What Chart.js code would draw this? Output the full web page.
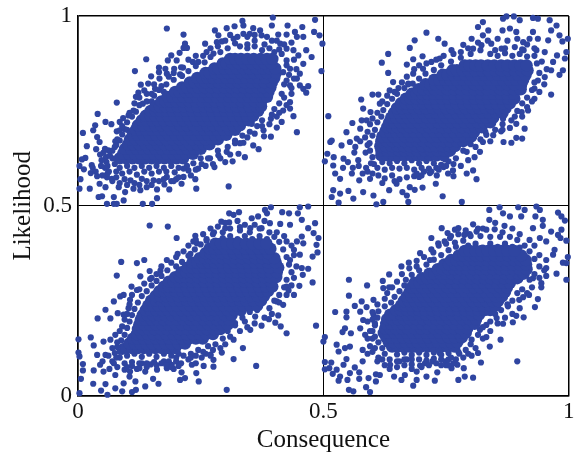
<!DOCTYPE html>
<html>
<head>
<meta charset="utf-8">
<script src="https://cdn.jsdelivr.net/npm/chart.js@4"></script>
<style>
html, body { margin: 0; background: #fff; }
</style>
</head>
<body>
<canvas id="chart" width="575" height="455"></canvas>
<script>
const tickValues = [0, 0.5, 1];
const xTitle = "Consequence";
const yTitle = "Likelihood";
const dotColor = "#2f45a1";

// scattered points, [consequence, likelihood]
const q1Loose = [[.181,.967],[.215,.951],[.139,.886],[.116,.855],[.079,.772],[.040,.742],[.010,.692],[.018,.657],[.003,.605],[.005,.570],[.024,.545],[.003,.545],[.049,.525],[.059,.505],[.132,.505],[.151,.505],[.161,.520],[.241,.545],[.307,.551],[.239,.570],[.278,.602],[.315,.617],[.340,.628],[.368,.649],[.393,.682],[.446,.694],[.439,.736],[.465,.798],[.496,.855],[.476,.892],[.498,.927],[.483,.990],[.397,.996],[.335,.987],[.427,.975],[.457,.971],[.492,.949],[.481,.958],[.190,.896],[.207,.903],[.218,.927],[.215,.916],[.222,.916],[.183,.883],[.201,.883],[.214,.864],[.165,.864],[.178,.861],[.196,.861],[.165,.852],[.181,.848],[.149,.841],[.208,.846],[.166,.835],[.128,.819],[.143,.822],[.157,.808],[.118,.787],[.123,.798],[.150,.795],[.135,.804],[.132,.769],[.113,.751],[.103,.738],[.092,.731],[.085,.721],[.068,.715],[.056,.721],[.035,.712],[.031,.699],[.039,.681],[.044,.668],[.037,.649],[.076,.670],[.079,.696],[.085,.699],[.062,.646],[.057,.628],[.015,.626],[.008,.622],[.028,.607],[.012,.596],[.026,.586],[.039,.578],[.044,.558],[.056,.549],[.042,.523],[.073,.523],[.079,.505],[.073,.505],[.093,.514],[.096,.536],[.083,.549],[.069,.571],[.059,.575],[.113,.545],[.127,.541],[.140,.549],[.161,.543],[.176,.556],[.186,.543],[.211,.558],[.215,.576],[.107,.567],[.130,.571],[.154,.567],[.181,.576],[.225,.593],[.245,.598],[.252,.61],[.300,.615],[.286,.633],[.269,.625],[.327,.637],[.303,.642],[.357,.659],[.320,.672],[.337,.666],[.354,.716],[.378,.699],[.379,.683],[.418,.751],[.432,.756],[.432,.773],[.415,.721],[.405,.706],[.393,.729],[.435,.795],[.432,.817],[.452,.817],[.469,.815],[.459,.808],[.446,.835],[.452,.848],[.459,.874],[.465,.91],[.449,.896],[.439,.91],[.425,.914],[.412,.927],[.408,.951],[.425,.951],[.442,.958],[.459,.945],[.446,.945],[.395,.975],[.371,.962],[.357,.968],[.337,.975],[.319,.973],[.303,.968],[.279,.962],[.286,.949],[.337,.953],[.350,.953],[.374,.949],[.317,.94],[.259,.927],[.262,.905],[.283,.931],[.293,.933],[.234,.879],[.245,.879],[.276,.901],[.425,.883],[.432,.861],[.418,.852],[.425,.83],
[.055,.60],[.06,.585],[.078,.59],[.09,.585],[.105,.59],[.12,.582],[.135,.59],[.15,.585],[.165,.59],[.18,.59],[.197,.588],[.058,.615],[.065,.632],[.07,.645],[.078,.66],[.085,.672],[.09,.688],[.095,.702],[.1,.72],[.11,.735],[.118,.748],[.125,.765],[.14,.775],[.155,.79],[.165,.805],[.18,.82],[.195,.832],[.212,.842],[.225,.855],[.24,.868],[.258,.878],[.27,.892],[.29,.905],[.305,.915],[.32,.928],[.345,.925],[.36,.935],[.38,.925],[.395,.935],[.41,.912],[.415,.9],[.425,.87],[.43,.845],[.42,.82],[.415,.795],[.41,.77],[.40,.755],[.395,.74],[.375,.725],[.365,.71],[.35,.695],[.335,.685],[.32,.665],[.305,.655],[.285,.645],[.265,.625],[.25,.625],[.235,.612],[.222,.605],[.215,.598],
[.03,.6],[.036,.59],[.047,.605],[.05,.58],[.063,.59],[.07,.565],[.078,.575],[.085,.56],[.095,.57],[.1,.555],[.115,.56],[.125,.555],[.14,.565],[.15,.555],[.165,.565],[.175,.57],[.19,.565],[.2,.57],[.048,.62],[.052,.64],[.07,.625],[.06,.605],[.075,.61],[.045,.635],[.055,.65],[.075,.655],[.08,.675],[.1,.7],[.09,.71],[.105,.745],[.115,.77],[.125,.785],[.14,.795],[.155,.82],[.17,.815],[.185,.84],[.195,.85],[.15,.775],[.16,.76],[.175,.8],[.21,.865],[.225,.885],[.24,.895],[.255,.895],[.27,.915],[.285,.92],[.30,.935],[.31,.95],[.325,.945],[.345,.945],[.36,.95],[.385,.945],[.405,.935],[.42,.925],[.435,.93],[.44,.885],[.445,.86],[.44,.835],[.435,.81],[.42,.785],[.425,.765],[.41,.745],[.405,.735],[.39,.715],[.375,.71],[.36,.69],[.345,.68],[.33,.665],[.31,.635],[.29,.625],[.275,.61],[.26,.605],[.24,.595],[.23,.58],[.205,.575],[.195,.565],
[.085,.6],[.1,.605],[.115,.6],[.13,.605],[.145,.6],[.16,.605],[.175,.6],[.19,.605],[.205,.6],[.33,.92],[.345,.915],[.36,.92],[.375,.91],[.39,.915],[.4,.905]];

const q2Loose = [[.510,.736],[.710,.956],[.686,.936],[.676,.916],[.734,.940],[.747,.927],[.632,.9],[.619,.877],[.632,.85],[.670,.872],[.683,.886],[.702,.894],[.642,.826],[.673,.822],[.683,.848],[.703,.861],[.720,.879],[.737,.888],[.761,.91],[.785,.924],[.802,.94],[.815,.971],[.825,.984],[.836,.962],[.825,.949],[.866,.993],[.888,.999],[.873,.999],[.927,.995],[.937,.993],[.961,.989],[.975,.975],[.900,.989],[.880,.967],[.865,.962],[.893,.958],[.927,.958],[.964,.962],[.981,.949],[.998,.940],[.987,.933],[.958,.936],[.937,.940],[.920,.940],[.907,.931],[.995,.905],[.992,.888],[.976,.896],[.951,.905],[.934,.91],[.908,.91],[.863,.914],[.842,.927],[.822,.923],[.805,.914],[.988,.857],[.968,.879],[.964,.857],[.981,.845],[.951,.839],[.937,.83],[.930,.809],[.930,.782],[.964,.793],[.917,.751],[.904,.747],[.893,.716],[.910,.703],[.905,.677],[.893,.679],[.883,.666],[.867,.668],[.862,.696],[.846,.686],[.832,.687],[.825,.712],[.866,.729],[.883,.725],[.825,.668],[.819,.642],[.808,.628],[.792,.642],[.805,.593],[.812,.57],[.792,.585],[.764,.593],[.765,.578],[.754,.585],[.731,.58],[.729,.558],[.743,.525],[.782,.51],[.745,.602],[.702,.548],[.686,.542],[.673,.51],[.670,.527],[.661,.536],[.676,.549],[.695,.576],[.717,.586],[.649,.558],[.634,.541],[.622,.51],[.608,.504],[.602,.527],[.581,.536],[.561,.519],[.551,.539],[.531,.508],[.517,.523],[.520,.541],[.534,.532],[.534,.571],[.524,.585],[.558,.585],[.573,.567],[.595,.571],[.520,.606],[.503,.617],[.508,.637],[.521,.628],[.541,.624],[.517,.672],[.514,.668],[.537,.659],[.547,.694],[.559,.718],[.578,.725],[.581,.756],[.577,.78],[.600,.793],[.612,.793],[.596,.747],[.615,.769],[.568,.677],[.554,.668],[.575,.703],[.588,.725],[.635,.804],[.653,.81],[.673,.82],[.587,.6],[.603,.61],[.571,.62],[.586,.64],[.563,.64],[.59,.66],
[.61,.6],[.625,.595],[.64,.6],[.655,.598],[.67,.6],[.685,.595],[.7,.6],[.715,.598],[.73,.6],[.597,.612],[.6,.628],[.595,.645],[.594,.665],[.6,.685],[.605,.7],[.61,.72],[.618,.735],[.622,.752],[.63,.768],[.64,.782],[.65,.795],[.665,.81],[.682,.822],[.695,.835],[.708,.848],[.725,.858],[.74,.87],[.76,.88],[.78,.89],[.8,.9],[.82,.91],[.85,.91],[.87,.915],[.89,.918],[.905,.912],[.93,.895],[.935,.875],[.94,.85],[.93,.825],[.925,.805],[.915,.785],[.905,.77],[.895,.75],[.89,.735],[.865,.715],[.85,.7],[.83,.695],[.82,.675],[.8,.662],[.785,.645],[.77,.625],[.755,.617],[.74,.608],[.748,.622],
[.54,.6],[.55,.615],[.56,.6],[.572,.605],[.58,.585],[.59,.59],[.6,.585],[.612,.58],[.625,.572],[.64,.58],[.655,.57],[.67,.575],[.685,.578],[.7,.58],[.62,.56],[.645,.565],[.565,.655],[.575,.67],[.585,.68],[.59,.695],[.595,.715],[.6,.73],[.61,.745],[.62,.775],[.63,.79],[.645,.8],[.66,.825],[.67,.84],[.685,.86],[.695,.87],[.71,.875],[.73,.885],[.745,.895],[.765,.9],[.78,.905],[.795,.915],[.815,.93],[.835,.935],[.855,.94],[.875,.935],[.895,.94],[.915,.925],[.93,.915],[.945,.88],[.955,.86],[.95,.82],[.94,.8],[.925,.775],[.915,.76],[.905,.735],[.88,.705],[.865,.7],[.84,.67],[.81,.655],[.795,.62],[.78,.605],[.765,.61],[.72,.59],[.705,.59],[.69,.585],[.75,.605],[.735,.595],
[.62,.615],[.635,.612],[.65,.618],[.665,.612],[.68,.62],[.695,.612],[.71,.618],[.725,.612],[.84,.9],[.855,.895],[.87,.902],[.885,.895],[.9,.9],[.915,.893]];

const q3Loose = [[.146,.448],[.183,.445],[.088,.352],[.120,.349],[.135,.357],[.079,.316],[.146,.328],[.181,.357],[.201,.415],[.203,.373],[.239,.421],[.235,.406],[.242,.401],[.229,.373],[.262,.408],[.277,.430],[.300,.441],[.292,.458],[.308,.48],[.317,.476],[.328,.483],[.308,.456],[.330,.444],[.354,.467],[.367,.472],[.381,.489],[.393,.496],[.385,.48],[.416,.483],[.430,.48],[.452,.496],[.469,.498],[.448,.48],[.456,.463],[.483,.454],[.469,.441],[.432,.45],[.412,.452],[.391,.454],[.374,.441],[.351,.441],[.490,.415],[.480,.428],[.456,.419],[.446,.406],[.425,.406],[.486,.397],[.488,.377],[.478,.366],[.459,.401],[.440,.384],[.452,.371],[.432,.357],[.456,.336],[.469,.334],[.458,.318],[.478,.298],[.451,.289],[.425,.287],[.429,.277],[.440,.265],[.405,.248],[.418,.239],[.408,.211],[.389,.201],[.402,.192],[.413,.182],[.425,.164],[.485,.184],[.374,.184],[.361,.208],[.340,.195],[.351,.173],[.320,.191],[.317,.147],[.336,.125],[.317,.096],[.363,.078],[.303,.015],[.293,.113],[.276,.076],[.276,.094],[.256,.078],[.232,.081],[.241,.059],[.246,.037],[.218,.046],[.208,.041],[.211,.061],[.191,.081],[.181,.072],[.164,.031],[.153,.044],[.137,.063],[.130,.085],[.161,.068],[.106,.063],[.105,.05],[.117,.037],[.137,.024],[.118,.015],[.110,.009],[.093,.032],[.090,.011],[.076,.019],[.060,.002],[.056,.03],[.047,.013],[.031,.031],[.003,.006],[.006,.044],[.010,.066],[.010,.083],[.003,.103],[.001,.113],[.001,.148],[.026,.153],[.032,.132],[.039,.107],[.032,.066],[.045,.081],[.052,.063],[.076,.054],[.073,.085],[.056,.107],[.052,.142],[.066,.147],[.076,.16],[.090,.129],[.040,.203],[.056,.226],[.066,.203],[.081,.217],[.073,.248],[.086,.261],[.093,.265],[.106,.252],[.109,.287],[.127,.314],[.147,.307],[.168,.329],[.090,.182],[.093,.213],[.103,.23],[.120,.278],[.064,.07],[.08,.075],[.095,.068],[.12,.07],[.148,.082],[.175,.09],[.2,.09],[.225,.095],[.252,.1],[.27,.108],
[.085,.1],[.075,.112],[.08,.128],[.088,.145],[.095,.16],[.1,.178],[.105,.195],[.11,.212],[.115,.228],[.122,.245],[.13,.262],[.14,.275],[.15,.29],[.16,.302],[.17,.315],[.182,.33],[.2,.34],[.212,.352],[.225,.368],[.238,.385],[.25,.398],[.262,.412],[.275,.425],[.295,.43],[.31,.44],[.33,.435],[.35,.43],[.37,.44],[.39,.43],[.4,.418],[.41,.405],[.418,.385],[.425,.365],[.43,.345],[.435,.325],[.425,.305],[.42,.285],[.41,.265],[.4,.25],[.39,.23],[.365,.225],[.35,.22],[.335,.205],[.32,.185],[.305,.17],[.295,.15],[.28,.135],[.265,.13],[.245,.12],[.23,.11],[.215,.105],[.2,.1],[.185,.09],[.17,.085],[.155,.088],[.14,.085],[.125,.085],[.11,.088],[.095,.085],
[.05,.09],[.062,.105],[.07,.09],[.078,.1],[.085,.115],[.07,.125],[.08,.14],[.09,.115],[.1,.075],[.11,.078],[.125,.072],[.14,.075],[.16,.08],[.18,.08],[.195,.07],[.21,.085],[.23,.1],[.24,.085],[.26,.11],[.275,.12],[.085,.17],[.095,.2],[.1,.215],[.105,.24],[.11,.265],[.125,.28],[.135,.295],[.15,.31],[.16,.32],[.17,.34],[.19,.35],[.2,.365],[.215,.38],[.225,.395],[.24,.41],[.255,.425],[.27,.44],[.285,.445],[.3,.455],[.325,.46],[.34,.45],[.36,.45],[.38,.46],[.405,.43],[.42,.42],[.435,.395],[.44,.37],[.445,.34],[.44,.31],[.435,.29],[.425,.265],[.41,.245],[.395,.215],[.38,.205],[.36,.19],[.345,.18],[.33,.17],[.31,.155],[.3,.135],[.29,.125],[.27,.105],[.255,.115],[.24,.105],[.205,.078],[.19,.075],
[.1,.105],[.115,.11],[.13,.102],[.145,.11],[.16,.102],[.175,.11],[.19,.105],[.205,.11],[.295,.415],[.31,.42],[.325,.412],[.34,.42],[.355,.412],[.37,.42],[.385,.412]];

const q4Loose = [[.552,.305],[.589,.29],[.552,.263],[.621,.302],[.622,.283],[.634,.319],[.634,.285],[.524,.22],[.547,.221],[.547,.206],[.564,.236],[.578,.248],[.575,.221],[.588,.233],[.602,.252],[.602,.213],[.581,.199],[.544,.177],[.539,.167],[.503,.154],[.500,.142],[.556,.164],[.575,.177],[.527,.134],[.554,.129],[.544,.125],[.531,.116],[.503,.088],[.516,.087],[.503,.069],[.512,.072],[.547,.096],[.541,.081],[.527,.068],[.519,.057],[.534,.05],[.531,.039],[.549,.041],[.554,.059],[.564,.074],[.580,.09],[.573,.044],[.573,.061],[.592,.046],[.607,.037],[.587,.022],[.595,.009],[.561,.011],[.552,.015],[.607,.056],[.615,.054],[.636,.081],[.644,.05],[.659,.041],[.666,.054],[.683,.026],[.690,.041],[.710,.05],[.727,.039],[.732,.061],[.690,.063],[.697,.079],[.707,.085],[.722,.09],[.737,.112],[.749,.09],[.761,.072],[.773,.081],[.786,.072],[.788,.05],[.775,.041],[.805,.047],[.821,.087],[.802,.105],[.815,.112],[.777,.11],[.839,.129],[.861,.147],[.895,.09],[.832,.154],[.802,.147],[.819,.173],[.832,.186],[.866,.189],[.853,.204],[.886,.193],[.908,.206],[.893,.21],[.876,.235],[.931,.233],[.937,.254],[.919,.265],[.907,.259],[.899,.252],[.944,.285],[.944,.296],[.927,.309],[.995,.305],[.975,.321],[.954,.315],[.954,.336],[.998,.365],[.988,.35],[.995,.349],[.971,.384],[.968,.371],[.954,.357],[.995,.408],[.978,.423],[.985,.437],[.964,.432],[.983,.415],[.978,.482],[.992,.461],[.985,.472],[.934,.498],[.941,.489],[.910,.489],[.903,.472],[.932,.472],[.947,.463],[.947,.447],[.927,.441],[.897,.496],[.859,.496],[.866,.48],[.838,.489],[.838,.463],[.869,.447],[.880,.472],[.849,.438],[.832,.437],[.812,.432],[.805,.451],[.798,.425],[.787,.423],[.775,.441],[.768,.437],[.741,.441],[.753,.428],[.720,.415],[.758,.415],[.734,.401],[.747,.406],[.768,.403],[.697,.375],[.724,.377],[.674,.35],[.659,.34],[.717,.357],[.690,.34],[.954,.406],[.941,.415],[.59,.11],[.605,.125],[.612,.1],[.625,.08],[.655,.09],[.67,.095],[.68,.082],[.6,.15],[.585,.16],[.605,.185],[.6,.2],
[.635,.095],[.65,.09],[.665,.095],[.68,.095],[.695,.095],[.71,.092],[.725,.097],[.74,.095],[.755,.095],[.625,.11],[.62,.125],[.612,.14],[.605,.155],[.6,.17],[.605,.19],[.61,.205],[.612,.222],[.625,.235],[.638,.245],[.645,.26],[.655,.275],[.665,.29],[.668,.305],[.68,.318],[.695,.33],[.71,.345],[.725,.358],[.74,.37],[.755,.383],[.77,.392],[.785,.408],[.8,.42],[.82,.42],[.84,.418],[.86,.418],[.88,.418],[.895,.41],[.91,.395],[.92,.38],[.93,.36],[.94,.34],[.93,.32],[.92,.305],[.905,.28],[.895,.27],[.885,.25],[.875,.24],[.862,.225],[.85,.215],[.84,.195],[.825,.18],[.815,.16],[.8,.135],[.79,.12],[.775,.115],[.76,.1],
[.58,.12],[.595,.13],[.6,.115],[.61,.09],[.62,.095],[.635,.07],[.65,.075],[.665,.08],[.68,.07],[.7,.075],[.715,.08],[.73,.085],[.75,.08],[.765,.085],[.59,.15],[.595,.17],[.59,.195],[.6,.22],[.61,.24],[.625,.255],[.63,.27],[.64,.285],[.65,.3],[.66,.32],[.675,.335],[.69,.355],[.705,.365],[.72,.385],[.735,.395],[.75,.4],[.76,.42],[.775,.425],[.79,.435],[.815,.44],[.825,.44],[.85,.455],[.865,.43],[.885,.44],[.9,.425],[.92,.41],[.93,.395],[.94,.37],[.95,.33],[.94,.31],[.925,.285],[.915,.27],[.9,.23],[.885,.215],[.87,.205],[.855,.19],[.84,.17],[.825,.15],[.81,.125],[.795,.11],[.785,.1],[.77,.095],[.755,.08],[.74,.08],
[.65,.108],[.665,.113],[.68,.107],[.695,.113],[.71,.107],[.725,.113],[.74,.107],[.755,.112],[.795,.395],[.81,.4],[.825,.39],[.84,.4],[.855,.392],[.87,.4],[.885,.392],[.9,.39]];

// the solid middle of each cloud, estimated row by row: [likelihood, consequence, consequence, ...]
const q1Core = [
[.625,.085,.098,.111,.124,.137,.150,.163,.176,.189,.201,.214],
[.637,.092,.104,.116,.129,.142,.155,.168,.181,.194,.207,.220,.234],
[.650,.096,.108,.120,.132,.145,.158,.171,.184,.197,.210,.223,.237,.250],
[.662,.102,.113,.125,.138,.150,.163,.176,.189,.202,.216,.229,.243,.256,.268],
[.675,.106,.117,.129,.141,.154,.167,.180,.193,.207,.220,.233,.247,.260,.273,.285],
[.687,.112,.122,.134,.146,.159,.172,.185,.199,.212,.225,.239,.252,.265,.279,.292,.302],
[.700,.118,.128,.139,.151,.164,.176,.190,.203,.217,.230,.243,.257,.270,.284,.297,.310,.320],
[.712,.122,.133,.145,.157,.170,.182,.196,.209,.222,.236,.249,.263,.276,.289,.303,.316,.330],
[.725,.130,.140,.151,.163,.175,.189,.202,.215,.229,.242,.256,.269,.282,.296,.309,.322,.336,.348],
[.737,.138,.148,.158,.170,.183,.196,.210,.223,.237,.250,.263,.277,.290,.304,.317,.330,.344,.357],
[.750,.148,.158,.168,.180,.193,.207,.220,.233,.247,.260,.273,.287,.300,.313,.327,.340,.354,.367],
[.762,.158,.167,.178,.190,.203,.216,.230,.243,.257,.270,.283,.297,.310,.323,.337,.350,.363,.373],
[.775,.170,.178,.188,.200,.213,.227,.240,.253,.267,.280,.293,.307,.320,.333,.347,.360,.373],
[.787,.183,.192,.204,.215,.228,.242,.255,.268,.282,.295,.308,.322,.335,.348,.362,.375,.385],
[.800,.198,.207,.219,.230,.243,.257,.270,.283,.297,.310,.323,.337,.350,.363,.377,.388],
[.812,.212,.222,.234,.245,.258,.272,.285,.298,.312,.325,.338,.352,.365,.378,.392],
[.825,.228,.238,.250,.260,.273,.287,.300,.313,.327,.340,.353,.367,.380,.395],
[.837,.243,.253,.264,.275,.288,.302,.315,.328,.342,.355,.368,.382,.400],
[.850,.260,.268,.280,.292,.305,.318,.332,.345,.358,.372,.385,.403],
[.862,.278,.286,.298,.310,.324,.337,.350,.364,.377,.390,.402],
[.875,.295,.303,.315,.327,.340,.354,.367,.380,.394],
[.887,.310,.320,.332,.345,.358,.372,.385,.396]];

const q2Core = [
[.633,.618,.630,.642,.654,.666,.679,.692,.704,.718,.731,.745],
[.645,.618,.630,.642,.654,.666,.679,.692,.706,.719,.733,.746,.758],
[.657,.616,.627,.639,.651,.664,.676,.689,.702,.716,.729,.743,.756,.768],
[.670,.618,.629,.641,.653,.665,.678,.691,.704,.718,.731,.745,.758,.772,.785],
[.682,.620,.631,.643,.655,.667,.679,.693,.706,.720,.733,.747,.760,.774,.787,.801],
[.695,.626,.636,.648,.660,.673,.685,.699,.712,.726,.739,.753,.766,.780,.793,.807],
[.707,.630,.640,.651,.663,.676,.689,.702,.716,.729,.743,.756,.770,.783,.797,.810,.822],
[.720,.634,.644,.656,.668,.680,.693,.707,.720,.734,.747,.761,.774,.788,.801,.815,.828,.840],
[.732,.638,.648,.660,.672,.684,.697,.711,.724,.738,.751,.765,.778,.792,.805,.819,.832,.846],
[.745,.644,.654,.666,.678,.690,.703,.717,.730,.744,.757,.771,.784,.798,.811,.825,.838,.852,.865],
[.757,.650,.660,.672,.684,.696,.709,.723,.736,.750,.763,.777,.790,.804,.817,.831,.844,.858,.871],
[.770,.658,.668,.680,.692,.704,.717,.731,.744,.758,.771,.785,.798,.812,.825,.839,.852,.866,.880],
[.782,.668,.678,.690,.702,.714,.727,.741,.754,.768,.781,.795,.808,.822,.835,.849,.862,.876,.889],
[.795,.680,.690,.702,.713,.726,.739,.753,.766,.780,.793,.807,.820,.834,.847,.861,.874,.888],
[.807,.694,.704,.716,.727,.740,.753,.767,.780,.794,.807,.821,.834,.848,.861,.875,.888,.902],
[.820,.708,.718,.729,.741,.754,.767,.781,.794,.808,.821,.835,.848,.862,.875,.889,.903],
[.832,.726,.736,.748,.759,.772,.785,.799,.812,.826,.839,.853,.866,.880,.893,.907],
[.845,.743,.753,.765,.776,.789,.802,.816,.829,.843,.856,.870,.883,.897,.912],
[.857,.763,.772,.784,.796,.809,.823,.836,.850,.863,.877,.890,.904,.916],
[.870,.788,.798,.810,.821,.835,.848,.862,.875,.889,.902,.914]];

const q3Core = [
[.125,.098,.110,.122,.134,.146,.158,.171,.184,.198],
[.137,.105,.116,.127,.139,.152,.165,.178,.191,.205,.218],
[.150,.112,.122,.134,.146,.159,.172,.186,.199,.213,.226,.240,.254],
[.162,.120,.130,.142,.154,.167,.180,.194,.207,.221,.234,.248,.261,.275],
[.175,.122,.132,.144,.156,.169,.182,.196,.209,.223,.236,.250,.263,.277,.290],
[.187,.125,.135,.147,.159,.172,.185,.199,.212,.226,.239,.253,.266,.280,.293,.305],
[.200,.128,.138,.150,.162,.175,.188,.202,.215,.229,.242,.256,.269,.283,.296,.308],
[.212,.132,.142,.153,.165,.178,.191,.205,.218,.232,.245,.259,.272,.286,.299,.313],
[.225,.138,.148,.159,.171,.184,.197,.211,.224,.238,.251,.265,.278,.292,.305,.319,.332],
[.237,.143,.153,.164,.176,.189,.202,.216,.229,.243,.256,.270,.283,.297,.310,.324,.337,.351,.365],
[.250,.149,.159,.170,.182,.195,.208,.222,.235,.249,.262,.276,.289,.303,.316,.330,.343,.357,.373],
[.262,.158,.168,.179,.191,.204,.217,.231,.244,.258,.271,.285,.298,.312,.325,.339,.352,.366,.379],
[.275,.166,.176,.187,.199,.212,.225,.239,.252,.266,.279,.293,.306,.320,.333,.347,.360,.374,.387],
[.287,.175,.185,.196,.208,.221,.234,.248,.261,.275,.288,.302,.315,.329,.342,.356,.369,.383,.396],
[.300,.185,.195,.206,.218,.231,.244,.258,.271,.285,.298,.312,.325,.339,.352,.366,.379,.393],
[.312,.198,.208,.219,.231,.244,.257,.271,.284,.298,.311,.325,.338,.352,.365,.379,.392,.404],
[.325,.211,.221,.232,.244,.257,.270,.284,.297,.311,.324,.338,.351,.365,.378,.392,.405],
[.337,.223,.233,.244,.256,.269,.282,.296,.309,.323,.336,.350,.363,.377,.390,.408],
[.350,.233,.243,.254,.266,.279,.292,.306,.319,.333,.346,.360,.373,.387,.403],
[.362,.248,.258,.269,.281,.294,.307,.321,.334,.348,.361,.375,.388,.400],
[.375,.260,.270,.281,.293,.306,.319,.333,.346,.360,.373,.387],
[.387,.268,.278,.289,.301,.314,.327,.341,.354,.368,.381,.392],
[.400,.280,.291,.302,.315,.328,.342,.356,.370,.384]];

const q4Core = [
[.129,.640,.651,.663,.675,.687,.699,.713,.726,.740,.753,.767],
[.141,.633,.643,.655,.667,.680,.692,.706,.719,.733,.746,.760,.773],
[.153,.628,.638,.650,.662,.675,.687,.701,.714,.728,.741,.755,.768,.782],
[.165,.623,.633,.645,.657,.670,.682,.696,.709,.723,.736,.750,.763,.777,.790],
[.177,.626,.636,.648,.660,.672,.685,.699,.712,.726,.739,.753,.766,.780,.793],
[.189,.628,.638,.650,.662,.674,.687,.701,.714,.728,.741,.755,.768,.782,.795,.808],
[.201,.630,.640,.652,.664,.676,.689,.703,.716,.730,.743,.757,.770,.784,.797,.811],
[.213,.636,.646,.658,.670,.682,.695,.709,.722,.736,.749,.763,.776,.790,.803,.817],
[.225,.648,.658,.670,.682,.694,.707,.721,.734,.748,.761,.775,.788,.802,.815,.829,.840],
[.237,.658,.668,.680,.692,.704,.717,.731,.744,.758,.771,.785,.798,.812,.825,.839,.850],
[.249,.664,.674,.686,.698,.710,.723,.737,.750,.764,.777,.791,.804,.818,.831,.845,.856],
[.261,.670,.680,.692,.704,.716,.729,.743,.756,.770,.783,.797,.810,.824,.837,.851,.864],
[.273,.676,.686,.698,.710,.722,.735,.749,.762,.776,.789,.803,.816,.830,.843,.857,.870],
[.285,.680,.690,.702,.714,.726,.739,.753,.766,.780,.793,.807,.820,.834,.847,.861,.874],
[.297,.686,.696,.708,.720,.732,.745,.759,.772,.786,.799,.813,.826,.840,.853,.867,.880],
[.309,.701,.711,.723,.735,.747,.760,.774,.787,.801,.814,.828,.841,.855,.868,.882,.895],
[.321,.716,.726,.738,.750,.762,.775,.789,.802,.816,.829,.843,.856,.870,.883,.897,.908],
[.333,.733,.743,.755,.767,.779,.792,.806,.819,.833,.846,.860,.873,.887,.900,.914],
[.345,.746,.756,.768,.780,.792,.805,.819,.832,.846,.859,.873,.886,.900,.913],
[.357,.760,.771,.783,.795,.807,.820,.834,.847,.861,.874,.888,.901,.912],
[.369,.776,.786,.798,.810,.822,.835,.849,.862,.876,.889,.903],
[.381,.788,.798,.810,.822,.835,.848,.862,.875,.889]];

const loosePoints = list => list.map(p => ({ x: p[0], y: p[1] }));
const corePoints = rows => rows.flatMap(row => row.slice(1).map(x => ({ x: x, y: row[0] })));

const dotSet = (data, radius) => ({
  data: data,
  backgroundColor: dotColor,
  borderColor: dotColor,
  pointRadius: radius,
  pointBorderWidth: 0,
  clip: false
});

const axis = (title, pad, fit) => ({
  type: "linear",
  min: 0,
  max: 1,
  afterBuildTicks: s => { s.ticks = tickValues.map(v => ({ value: v })); },
  afterFit: fit,
  grid: {
    color: "#000",
    lineWidth: c => (c.tick.value === 0.5 ? 1 : 1.5),
    drawTicks: false
  },
  border: { color: "#000", width: 1.5 },
  ticks: {
    color: "#111",
    font: { family: "'Liberation Serif'", size: 23 },
    padding: pad,
    maxRotation: 0,
    callback: v => String(v)
  },
  title: {
    display: true,
    text: title,
    color: "#111",
    font: { family: "'Liberation Serif'", size: 25 },
    padding: { top: 8, bottom: 0 }
  }
});

new Chart(document.getElementById("chart"), {
  type: "scatter",
  data: {
    datasets: [
      dotSet(corePoints(q1Core), 6.2), dotSet(corePoints(q2Core), 6.2),
      dotSet(corePoints(q3Core), 6.2), dotSet(corePoints(q4Core), 6.2),
      dotSet(loosePoints(q1Loose), 3.1), dotSet(loosePoints(q2Loose), 3.1),
      dotSet(loosePoints(q3Loose), 3.1), dotSet(loosePoints(q4Loose), 3.1)
    ]
  },
  options: {
    responsive: false,
    animation: false,
    layout: { padding: { left: 0, right: 6, top: 16, bottom: 0 } },
    plugins: { legend: { display: false }, tooltip: { enabled: false } },
    scales: {
      x: axis(xTitle, 3, s => { s.height = 59.5; s.paddingLeft = 0; s.paddingRight = 0; }),
      y: axis(yTitle, 6, s => { s.width = 78; s.paddingTop = 0; s.paddingBottom = 0; })
    }
  }
});
</script>
</body>
</html>
